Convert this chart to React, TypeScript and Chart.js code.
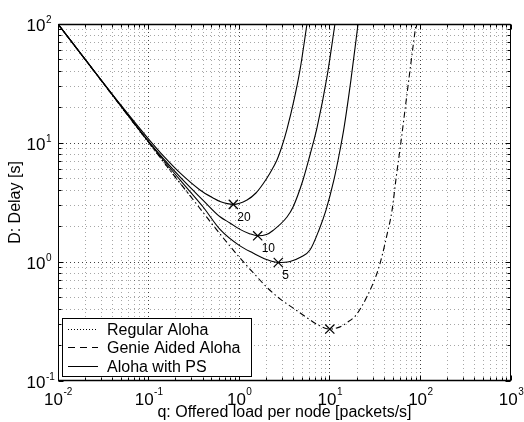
import React, { useEffect, useRef } from "react";
import { Chart, registerables } from "chart.js";

Chart.register(...registerables);

// ---------- data ----------
// offered load per node g [packets/s] and delay D [s]
const regularG = [0.01, 0.02, 0.05, 0.1, 0.2, 0.3];
const regularD = [100, 50.1, 20.1, 10.1, 5.1, 3.45];

const genieG = [0.01, 0.02, 0.05, 0.1, 0.2, 0.3, 0.44, 0.614, 1, 1.5, 2.03, 2.82, 4.13, 5.6, 7.5, 10, 13, 15.5, 19, 22, 26, 30, 34, 38, 42.8, 48.6, 53.8, 60.8, 68.2, 76.5, 83, 89.4];
const genieD = [100, 50.1, 20.1, 10.1, 5.1, 3.45, 2.37, 1.72, 1.1, 0.78, 0.61, 0.49, 0.4, 0.34, 0.295, 0.273, 0.285, 0.31, 0.35, 0.41, 0.52, 0.66, 0.85, 1.15, 1.7, 2.7, 5, 10, 20, 40, 65, 100];

const ps20G = [0.01, 0.02, 0.05, 0.1, 0.15, 0.222, 0.369, 0.514, 0.614, 0.861, 1.22, 1.53, 1.83, 2.19, 2.61, 2.97, 3.37, 4.03, 4.69, 5.6];
const ps20D = [100, 50.4, 20.6, 10.8, 7.6, 5.6, 4.03, 3.45, 3.22, 3.05, 3.32, 3.8, 4.52, 5.6, 7.2, 9.44, 13.1, 23, 41.1, 100];

const ps10G = [0.01, 0.02, 0.05, 0.1, 0.222, 0.4, 0.614, 0.79, 1.02, 1.3, 1.6, 2.0, 2.36, 3.37, 3.93, 5.06, 6.04, 7.22, 9.31, 11.4];
const ps10D = [100, 50.3, 20.4, 10.3, 5.18, 3.3, 2.4, 2.13, 1.88, 1.73, 1.66, 1.7, 1.84, 2.39, 2.9, 4.89, 7.93, 13.4, 35.9, 100];

const ps5G = [0.01, 0.02, 0.05, 0.1, 0.222, 0.4, 0.614, 1.0, 1.42, 2.0, 2.7, 3.64, 4.8, 6.04, 7.6, 9.08, 11.1, 12.97, 14.35, 17.1, 20.5];
const ps5D = [100, 50.2, 20.2, 10.2, 4.9, 2.9, 1.88, 1.38, 1.19, 1.05, 0.99, 1.01, 1.1, 1.26, 1.86, 2.73, 4.89, 8.73, 13.4, 33.8, 100];

// optimum points (x markers)
const optG = [0.861, 1.6, 2.7, 10];
const optD = [3.05, 1.66, 0.99, 0.273];
const optLabels = ["20", "10", "5", ""];

const legendLabels = ["Regular Aloha", "Genie Aided Aloha", "Aloha with PS"];
const xTitle = "q: Offered load per node [packets/s]";
const yTitle = "D: Delay [s]";
const xDecades = [-2, -1, 0, 1, 2, 3];
const yDecades = [-1, 0, 1, 2];

const FONT = '"Liberation Sans", Arial, Helvetica, sans-serif';
const GENIE_DASH = [6, 3, 1.5, 3];
const GENIE_LEGEND_DASH = [7, 5];
const REG_DASH = [1, 2];

const pts = (gs: number[], ds: number[]) => gs.map((g, i) => ({ x: g, y: ds[i] }));

const matlabPlugin = {
  id: "matlabAxes",
  beforeDatasetsDraw(chart: any) {
    const { ctx, chartArea: a, scales } = chart;
    const xs = scales.x;
    const ys = scales.y;
    ctx.save();
    ctx.lineWidth = 1;
    ctx.setLineDash([1, 3]);
    for (const d of xDecades) {
      for (let k = 1; k <= 9; k++) {
        const v = k * Math.pow(10, d);
        if (v <= 0.01 * 1.0001 || v >= 1000 * 0.9999) continue;
        const p = Math.floor(xs.getPixelForValue(v)) + 0.5;
        ctx.strokeStyle = k === 1 ? "rgba(0,0,0,0.75)" : "rgba(0,0,0,0.35)";
        ctx.beginPath();
        ctx.moveTo(p, a.top);
        ctx.lineTo(p, a.bottom);
        ctx.stroke();
      }
    }
    for (const d of yDecades) {
      for (let k = 1; k <= 9; k++) {
        const v = k * Math.pow(10, d);
        if (v <= 0.1 * 1.0001 || v >= 100 * 0.9999) continue;
        const p = Math.floor(ys.getPixelForValue(v)) + 0.5;
        ctx.strokeStyle = k === 1 ? "rgba(0,0,0,0.75)" : "rgba(0,0,0,0.35)";
        ctx.beginPath();
        ctx.moveTo(a.left, p);
        ctx.lineTo(a.right, p);
        ctx.stroke();
      }
    }
    ctx.restore();
  },
  afterDatasetsDraw(chart: any) {
    const { ctx, chartArea: a, scales } = chart;
    const xs = scales.x;
    const ys = scales.y;
    const L = Math.floor(a.left) + 0.5;
    const R = Math.ceil(a.right) - 0.5;
    const T = Math.floor(a.top) + 0.5;
    const B = Math.ceil(a.bottom) - 0.5;
    ctx.save();
    ctx.setLineDash([]);
    ctx.strokeStyle = "#000";
    ctx.lineWidth = 1;
    // tick marks (inside, all four sides)
    ctx.beginPath();
    for (const d of xDecades) {
      for (let k = 1; k <= 9; k++) {
        const v = k * Math.pow(10, d);
        if (v > 1000 * 1.0001) continue;
        const p = Math.floor(xs.getPixelForValue(v)) + 0.5;
        const len = k === 1 ? 5 : 3;
        ctx.moveTo(p, B);
        ctx.lineTo(p, B - len);
        ctx.moveTo(p, T);
        ctx.lineTo(p, T + len);
      }
    }
    for (const d of yDecades) {
      for (let k = 1; k <= 9; k++) {
        const v = k * Math.pow(10, d);
        if (v > 100 * 1.0001) continue;
        const p = Math.floor(ys.getPixelForValue(v)) + 0.5;
        const len = k === 1 ? 5 : 3;
        ctx.moveTo(L, p);
        ctx.lineTo(L + len, p);
        ctx.moveTo(R, p);
        ctx.lineTo(R - len, p);
      }
    }
    ctx.stroke();
    // frame (top & bottom a little heavier, as in the reference)
    ctx.strokeRect(L, T, R - L, B - T);
    ctx.lineWidth = 1.6;
    ctx.beginPath();
    ctx.moveTo(L, T);
    ctx.lineTo(R, T);
    ctx.moveTo(L, B);
    ctx.lineTo(R, B);
    ctx.stroke();
    ctx.lineWidth = 1;

    // tick labels
    ctx.fillStyle = "#000";
    ctx.textBaseline = "alphabetic";
    const baseFont = `17px ${FONT}`;
    const expFont = `10px ${FONT}`;
    for (const d of xDecades) {
      const px = xs.getPixelForValue(Math.pow(10, d));
      const e = String(d);
      ctx.font = baseFont;
      const w10 = ctx.measureText("10").width;
      ctx.font = expFont;
      const we = ctx.measureText(e).width;
      const start = px - (w10 + we) / 2;
      ctx.font = baseFont;
      ctx.textAlign = "left";
      ctx.fillText("10", start, 405);
      ctx.font = expFont;
      ctx.fillText(e, start + w10 + 0.5, 395);
    }
    for (const d of yDecades) {
      const py = ys.getPixelForValue(Math.pow(10, d));
      ctx.font = baseFont;
      ctx.textAlign = "right";
      ctx.fillText("10", 45.5, py + 7);
      ctx.font = expFont;
      ctx.textAlign = "left";
      ctx.fillText(String(d), 46, py - 1);
    }

    // axis titles
    ctx.font = `16px ${FONT}`;
    ctx.textAlign = "center";
    ctx.fillText(xTitle, (a.left + a.right) / 2, 417);
    ctx.save();
    ctx.translate(20, (a.top + a.bottom) / 2);
    ctx.rotate(-Math.PI / 2);
    ctx.fillText(yTitle, 0, 0);
    ctx.restore();

    // optimum labels
    ctx.font = `12px ${FONT}`;
    ctx.textAlign = "left";
    ctx.textBaseline = "middle";
    optLabels.forEach((t, i) => {
      if (!t) return;
      const px = xs.getPixelForValue(optG[i]);
      const py = ys.getPixelForValue(optD[i]);
      ctx.fillText(t, px + 4, py + 13);
    });

    // legend
    const lx = 62.5, ly = 318.5, lw = 189, lh = 58;
    ctx.fillStyle = "#fff";
    ctx.fillRect(lx, ly, lw, lh);
    ctx.strokeStyle = "#000";
    ctx.lineWidth = 1;
    ctx.strokeRect(lx, ly, lw, lh);
    const rowY = [329.5, 347.5, 366.5];
    const dashes = [REG_DASH, GENIE_LEGEND_DASH, []];
    ctx.font = `16px ${FONT}`;
    ctx.textBaseline = "alphabetic";
    ctx.textAlign = "left";
    legendLabels.forEach((t, i) => {
      ctx.setLineDash(dashes[i]);
      ctx.strokeStyle = "#000";
      ctx.beginPath();
      ctx.moveTo(68, rowY[i]);
      ctx.lineTo(98, rowY[i]);
      ctx.stroke();
      ctx.setLineDash([]);
      ctx.fillStyle = "#000";
      ctx.fillText(t, 107, rowY[i] + 5.5);
    });
    ctx.restore();
  },
};

export default function App() {
  const ref = useRef<HTMLCanvasElement>(null);
  useEffect(() => {
    const lineBase = {
      pointRadius: 0,
      borderColor: "#000",
      borderWidth: 1.1,
      cubicInterpolationMode: "monotone" as const,
      fill: false,
    };
    const chart = new Chart(ref.current!, {
      type: "line",
      data: {
        datasets: [
          { ...lineBase, label: legendLabels[0], data: pts(regularG, regularD), borderDash: REG_DASH },
          { ...lineBase, label: legendLabels[1], data: pts(genieG, genieD), borderDash: GENIE_DASH },
          { ...lineBase, label: legendLabels[2] + " (20)", data: pts(ps20G, ps20D) },
          { ...lineBase, label: legendLabels[2] + " (10)", data: pts(ps10G, ps10D) },
          { ...lineBase, label: legendLabels[2] + " (5)", data: pts(ps5G, ps5D) },
          {
            label: "optimum",
            data: pts(optG, optD),
            showLine: false,
            pointStyle: "crossRot",
            pointRadius: 6.5,
            pointBorderColor: "#000",
            pointBorderWidth: 1.2,
            borderColor: "#000",
          },
        ],
      },
      options: {
        animation: false,
        responsive: false,
        devicePixelRatio: 1,
        events: [],
        layout: { padding: { left: 58, top: 24, right: 13, bottom: 41 } },
        scales: {
          x: { type: "logarithmic", min: 0.01, max: 1000, display: false },
          y: { type: "logarithmic", min: 0.1, max: 100, display: false },
        },
        plugins: { legend: { display: false }, tooltip: { enabled: false } },
      },
      plugins: [matlabPlugin],
    });
    return () => chart.destroy();
  }, []);
  return (
    <div style={{ position: "absolute", left: 0, top: 0, width: 524, height: 422, background: "#fff" }}>
      <canvas ref={ref} width={524} height={422} style={{ display: "block", width: 524, height: 422 }} />
    </div>
  );
}
